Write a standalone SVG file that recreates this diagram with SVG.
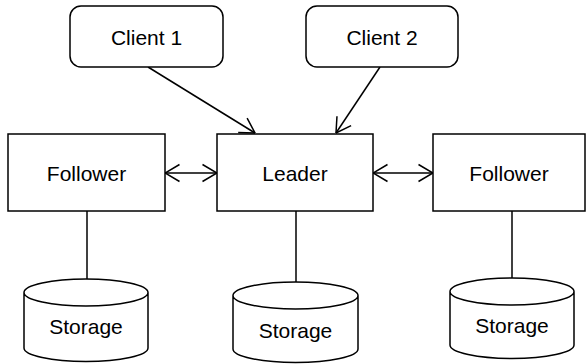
<svg xmlns="http://www.w3.org/2000/svg" width="587" height="364" viewBox="0 0 587 364">
<style>
.box{fill:#fff;stroke:#000;stroke-width:1.5}
.ln{fill:none;stroke:#000;stroke-width:1.5}
.t{font-family:"Liberation Sans",Arial,sans-serif;font-size:21px;fill:#000;text-anchor:middle}
</style>
<defs>
<marker id="ah" viewBox="0 0 16 20" refX="15.5" refY="10" markerWidth="16" markerHeight="20" markerUnits="userSpaceOnUse" orient="auto-start-reverse">
<path d="M1,1.5 L15.5,10 L1,18.5" fill="none" stroke="#000" stroke-width="1.5"/>
</marker>
</defs>
<g id="connectors">
<line class="ln" x1="148" y1="67" x2="255" y2="133" marker-end="url(#ah)"/>
<line class="ln" x1="380" y1="67" x2="336" y2="133" marker-end="url(#ah)"/>
<line class="ln" x1="165" y1="173" x2="217" y2="173" marker-start="url(#ah)" marker-end="url(#ah)"/>
<line class="ln" x1="373" y1="173" x2="433" y2="173" marker-start="url(#ah)" marker-end="url(#ah)"/>
<line class="ln" x1="87" y1="211" x2="87" y2="279"/>
<line class="ln" x1="296" y1="211" x2="296" y2="282"/>
<line class="ln" x1="512" y1="211" x2="512" y2="278"/>
</g>
<g id="client1">
<rect class="box" x="70" y="6" width="153" height="61" rx="11"/>
<text class="t" x="146.5" y="45">Client 1</text>
</g>
<g id="client2">
<rect class="box" x="306" y="6" width="152" height="61" rx="11"/>
<text class="t" x="382" y="45">Client 2</text>
</g>
<g id="follower1">
<rect class="box" x="8" y="134" width="157" height="77"/>
<text class="t" x="86.5" y="181">Follower</text>
</g>
<g id="leader">
<rect class="box" x="217" y="134" width="156" height="77"/>
<text class="t" x="295" y="181">Leader</text>
</g>
<g id="follower2">
<rect class="box" x="433" y="134" width="152" height="77"/>
<text class="t" x="509" y="181">Follower</text>
</g>
<g id="storage1">
<path class="box" d="M24,292.5 L24,348 A62,13.5 0 0 0 148,348 L148,292.5 A62,13.5 0 0 0 24,292.5 A62,13.5 0 0 0 148,292.5"/>
<text class="t" x="86" y="334">Storage</text>
</g>
<g id="storage2">
<path class="box" d="M233,295.5 L233,349 A62.5,13.5 0 0 0 358,349 L358,295.5 A62.5,13.5 0 0 0 233,295.5 A62.5,13.5 0 0 0 358,295.5"/>
<text class="t" x="295.5" y="338">Storage</text>
</g>
<g id="storage3">
<path class="box" d="M450,291.5 L450,345 A62,13.5 0 0 0 574,345 L574,291.5 A62,13.5 0 0 0 450,291.5 A62,13.5 0 0 0 574,291.5"/>
<text class="t" x="512" y="333">Storage</text>
</g>
</svg>
